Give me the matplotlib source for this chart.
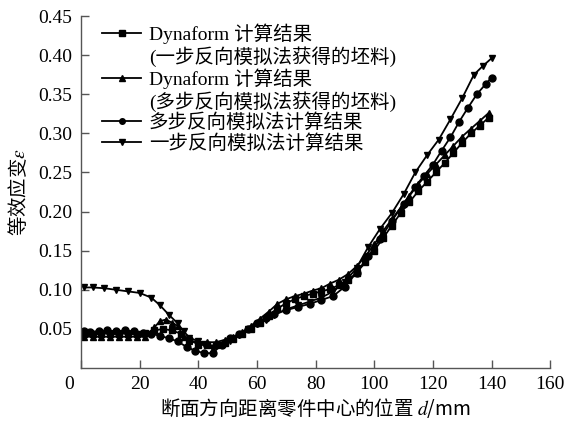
import matplotlib
matplotlib.use("Agg")
import matplotlib.pyplot as plt
from matplotlib.lines import Line2D
import matplotlib.transforms as mtransforms

plt.rcParams['font.family'] = ['Liberation Serif', 'Noto Sans CJK SC']
plt.rcParams['mathtext.fontset'] = 'stix'

# Dynaform (blank from one-step inverse) - squares
x_sq = [1, 4, 7, 10, 13, 16, 19, 22, 25, 28, 31, 34, 37, 40, 43, 46, 49, 52, 55, 58,
        61, 64, 67, 70, 73, 76, 79, 82, 85, 88, 91, 94, 97, 100, 103, 106, 109, 112,
        115, 118, 121, 124, 127, 130, 133, 136, 139]
y_sq = [0.044, 0.044, 0.044, 0.044, 0.044, 0.044, 0.044, 0.045, 0.048, 0.050, 0.048,
        0.044, 0.036, 0.030, 0.029, 0.029, 0.032, 0.037, 0.043, 0.050, 0.058, 0.067,
        0.076, 0.083, 0.088, 0.092, 0.095, 0.098, 0.101, 0.106, 0.112, 0.122, 0.135,
        0.150, 0.166, 0.182, 0.198, 0.212, 0.226, 0.238, 0.250, 0.262, 0.275, 0.288,
        0.300, 0.310, 0.320]

# Dynaform (blank from multi-step inverse) - triangles up
x_tu = [1, 4, 7, 10, 13, 16, 19, 22, 25, 27, 29, 31, 33, 35, 37, 40, 43, 46, 49, 52,
        55, 58, 61, 64, 67, 70, 73, 76, 79, 82, 85, 88, 91, 94, 97, 100, 103, 106, 109,
        112, 115, 118, 121, 124, 127, 130, 133, 136, 139]
y_tu = [0.040, 0.040, 0.040, 0.040, 0.040, 0.040, 0.040, 0.040, 0.052, 0.060, 0.062,
        0.058, 0.054, 0.040, 0.035, 0.033, 0.033, 0.033, 0.036, 0.040, 0.046, 0.054,
        0.063, 0.072, 0.082, 0.088, 0.092, 0.095, 0.099, 0.102, 0.108, 0.113, 0.120,
        0.130, 0.143, 0.158, 0.175, 0.190, 0.205, 0.220, 0.235, 0.248, 0.260, 0.272,
        0.284, 0.296, 0.306, 0.316, 0.326]

# Multi-step inverse method - circles
x_ci = [1, 3, 6, 9, 12, 15, 18, 21, 24, 27, 30, 33, 36, 39, 42, 45, 48, 51, 54, 57,
        60, 63, 66, 70, 74, 78, 82, 86, 90, 94, 98, 102, 106, 110, 114, 117, 120, 123,
        126, 129, 132, 135, 138, 140]
y_ci = [0.047, 0.046, 0.047, 0.048, 0.047, 0.048, 0.047, 0.045, 0.044, 0.041, 0.038,
        0.034, 0.027, 0.022, 0.019, 0.019, 0.030, 0.038, 0.043, 0.050, 0.058, 0.064,
        0.069, 0.074, 0.078, 0.082, 0.087, 0.092, 0.104, 0.122, 0.143, 0.165, 0.188,
        0.210, 0.232, 0.246, 0.260, 0.278, 0.295, 0.315, 0.333, 0.350, 0.363, 0.371]

# One-step inverse method - triangles down
x_td = [1, 4, 8, 12, 16, 20, 24, 27, 30, 33, 35, 37, 40, 42, 45, 48, 51, 54, 57, 60,
        63, 66, 70, 74, 78, 82, 86, 90, 94, 98, 102, 106, 110, 114, 118, 122, 126, 130,
        134, 137, 140]
y_td = [0.103, 0.103, 0.102, 0.100, 0.098, 0.096, 0.090, 0.080, 0.068, 0.057, 0.047,
        0.039, 0.034, 0.031, 0.024, 0.029, 0.035, 0.042, 0.050, 0.056, 0.062, 0.068,
        0.075, 0.080, 0.085, 0.090, 0.098, 0.110, 0.128, 0.155, 0.178, 0.198, 0.222,
        0.250, 0.272, 0.292, 0.318, 0.345, 0.375, 0.386, 0.396]

labels = ["Dynaform 计算结果", "(一步反向模拟法获得的坯料)",
          "Dynaform 计算结果", "(多步反向模拟法获得的坯料)",
          "多步反向模拟法计算结果", "一步反向模拟法计算结果"]
x_ticks = [0, 20, 40, 60, 80, 100, 120, 140, 160]
y_ticks = [0.05, 0.10, 0.15, 0.20, 0.25, 0.30, 0.35, 0.40, 0.45]

fig = plt.figure(figsize=(5.66, 4.23), dpi=100)
ax = fig.add_axes([0.143, 0.130, 0.829, 0.832])

kw = dict(color='black', linewidth=1.3, markersize=5)
ax.plot(x_sq, y_sq, marker='s', **kw)
ax.plot(x_tu, y_tu, marker='^', **kw)
ax.plot(x_ci, y_ci, marker='o', **kw)
ax.plot(x_td, y_td, marker='v', **kw)

ax.set_xlim(0, 160)
ax.set_ylim(0, 0.45)
ax.set_xticks(x_ticks)
ax.set_yticks(y_ticks)
ax.set_xticklabels([str(v) for v in x_ticks])
ax.set_yticklabels([f"{v:.2f}" for v in y_ticks])
for s in ['top', 'right']:
    ax.spines[s].set_visible(False)
for s in ['left', 'bottom']:
    ax.spines[s].set_color('#555555')
    ax.spines[s].set_linewidth(1.0)
ax.tick_params(direction='in', length=6, width=1.0, color='#555555',
               labelsize=14, pad=6)
# shift the "0" x tick label left
lab0 = ax.get_xticklabels()[0]
lab0.set_transform(lab0.get_transform() + mtransforms.ScaledTranslation(-12/100, 0, fig.dpi_scale_trans))

ax.set_xlabel("断面方向距离零件中心的位置 $d$/mm", fontsize=14, labelpad=2,
              family='Noto Sans CJK SC')
ax.set_ylabel("等效应变$\\varepsilon$", fontsize=14, labelpad=6,
              family='Noto Sans CJK SC')

lkw = dict(color='black', linewidth=1.3, markersize=4)
handles = [Line2D([], [], marker='s', **lkw),
           Line2D([], [], linestyle='none'),
           Line2D([], [], marker='^', **lkw),
           Line2D([], [], linestyle='none'),
           Line2D([], [], marker='o', **lkw),
           Line2D([], [], marker='v', **lkw)]
ax.legend(handles, labels, loc='upper left', bbox_to_anchor=(0.037, 0.99),
          frameon=False, fontsize=14, handlelength=2.0, handletextpad=0.4,
          labelspacing=0.1, borderpad=0.2, borderaxespad=0.0)

fig.savefig("out.png", dpi=100)
